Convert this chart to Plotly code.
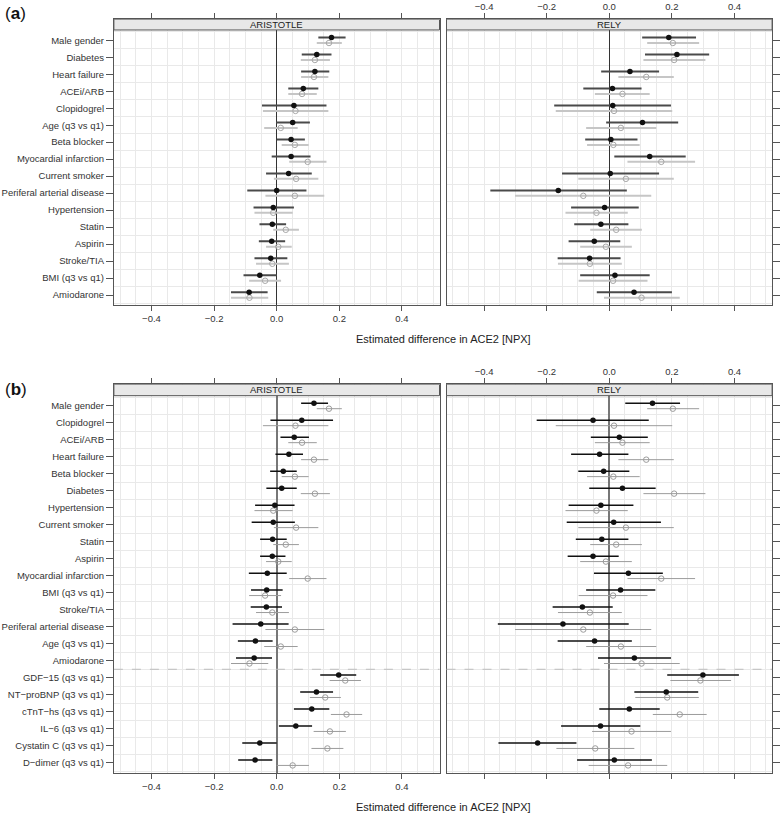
import plotly.graph_objects as go

# ---------------- data ----------------
labels_a = ["Male gender", "Diabetes", "Heart failure", "ACEi/ARB", "Clopidogrel",
            "Age (q3 vs q1)", "Beta blocker", "Myocardial infarction", "Current smoker",
            "Periferal arterial disease", "Hypertension", "Statin", "Aspirin",
            "Stroke/TIA", "BMI (q3 vs q1)", "Amiodarone"]

# panel (a) ARISTOTLE
a_ari_est = [0.175, 0.128, 0.122, 0.085, 0.055, 0.051, 0.046, 0.046, 0.038, 0.000, -0.011, -0.014, -0.016, -0.019, -0.054, -0.088]
a_ari_lo = [0.133, 0.080, 0.078, 0.037, -0.047, -0.002, 0.000, -0.016, -0.034, -0.094, -0.074, -0.055, -0.057, -0.071, -0.106, -0.146]
a_ari_hi = [0.220, 0.175, 0.168, 0.133, 0.159, 0.106, 0.090, 0.108, 0.112, 0.095, 0.055, 0.030, 0.027, 0.034, 0.000, -0.029]
a_ari_uni_est = [0.167, 0.122, 0.119, 0.081, 0.060, 0.013, 0.058, 0.099, 0.062, 0.058, -0.011, 0.029, 0.005, -0.014, -0.037, -0.087]
a_ari_uni_lo = [0.128, 0.077, 0.078, 0.037, -0.044, -0.040, 0.016, 0.040, -0.009, -0.036, -0.071, -0.011, -0.034, -0.066, -0.088, -0.146]
a_ari_uni_hi = [0.208, 0.170, 0.165, 0.128, 0.165, 0.067, 0.102, 0.159, 0.133, 0.152, 0.051, 0.071, 0.048, 0.039, 0.014, -0.027]

# panel (a) RELY
a_rely_est = [0.190, 0.216, 0.066, 0.010, 0.011, 0.106, 0.005, 0.129, 0.003, -0.163, -0.015, -0.027, -0.048, -0.063, 0.018, 0.079]
a_rely_lo = [0.105, 0.114, -0.026, -0.083, -0.176, -0.010, -0.077, 0.016, -0.151, -0.380, -0.122, -0.112, -0.130, -0.165, -0.093, -0.040]
a_rely_hi = [0.277, 0.319, 0.159, 0.103, 0.197, 0.220, 0.090, 0.244, 0.159, 0.056, 0.094, 0.061, 0.035, 0.036, 0.129, 0.200]
a_rely_uni_est = [0.203, 0.207, 0.118, 0.042, 0.015, 0.037, 0.013, 0.166, 0.053, -0.083, -0.041, 0.022, -0.011, -0.062, 0.012, 0.103]
a_rely_uni_lo = [0.121, 0.109, 0.029, -0.046, -0.171, -0.074, -0.071, 0.058, -0.099, -0.301, -0.140, -0.061, -0.093, -0.164, -0.098, -0.017]
a_rely_uni_hi = [0.287, 0.307, 0.206, 0.129, 0.201, 0.150, 0.097, 0.274, 0.206, 0.134, 0.059, 0.104, 0.072, 0.040, 0.122, 0.225]

labels_b = ["Male gender", "Clopidogrel", "ACEi/ARB", "Heart failure", "Beta blocker",
            "Diabetes", "Hypertension", "Current smoker", "Statin", "Aspirin",
            "Myocardial infarction", "BMI (q3 vs q1)", "Stroke/TIA",
            "Periferal arterial disease", "Age (q3 vs q1)", "Amiodarone",
            "GDF\u221215 (q3 vs q1)", "NT\u2212proBNP (q3 vs q1)", "cTnT\u2212hs (q3 vs q1)",
            "IL\u22126 (q3 vs q1)", "Cystatin C (q3 vs q1)", "D\u2212dimer (q3 vs q1)"]

# panel (b) ARISTOTLE
b_ari_est = [0.119, 0.080, 0.056, 0.039, 0.021, 0.016, -0.006, -0.011, -0.013, -0.014, -0.030, -0.032, -0.033, -0.051, -0.068, -0.072, 0.198, 0.127, 0.112, 0.061, -0.054, -0.069]
b_ari_lo = [0.078, -0.020, 0.012, -0.004, -0.021, -0.033, -0.069, -0.080, -0.053, -0.053, -0.089, -0.082, -0.083, -0.141, -0.124, -0.130, 0.139, 0.075, 0.055, 0.007, -0.110, -0.123]
b_ari_hi = [0.164, 0.180, 0.103, 0.084, 0.064, 0.064, 0.057, 0.058, 0.032, 0.028, 0.032, 0.019, 0.017, 0.038, -0.013, -0.015, 0.254, 0.180, 0.168, 0.113, 0.000, -0.014]
b_ari_uni_est = [0.167, 0.060, 0.081, 0.119, 0.058, 0.122, -0.011, 0.062, 0.029, 0.005, 0.099, -0.037, -0.014, 0.058, 0.013, -0.087, 0.219, 0.155, 0.223, 0.170, 0.162, 0.051]
b_ari_uni_lo = [0.128, -0.044, 0.037, 0.078, 0.016, 0.077, -0.071, -0.009, -0.011, -0.034, 0.040, -0.088, -0.066, -0.036, -0.040, -0.146, 0.169, 0.106, 0.173, 0.118, 0.111, 0.000]
b_ari_uni_hi = [0.208, 0.165, 0.128, 0.165, 0.102, 0.170, 0.051, 0.133, 0.071, 0.048, 0.159, 0.014, 0.039, 0.152, 0.067, -0.027, 0.269, 0.205, 0.273, 0.221, 0.213, 0.103]

# panel (b) RELY
b_rely_est = [0.138, -0.052, 0.032, -0.031, -0.018, 0.042, -0.027, 0.014, -0.024, -0.052, 0.061, 0.036, -0.086, -0.148, -0.047, 0.080, 0.299, 0.182, 0.064, -0.028, -0.229, 0.016]
b_rely_lo = [0.051, -0.232, -0.059, -0.122, -0.099, -0.064, -0.130, -0.136, -0.107, -0.133, -0.049, -0.074, -0.181, -0.356, -0.165, -0.036, 0.185, 0.080, -0.032, -0.154, -0.354, -0.103]
b_rely_hi = [0.226, 0.126, 0.123, 0.061, 0.064, 0.148, 0.077, 0.165, 0.061, 0.030, 0.171, 0.147, 0.011, 0.062, 0.072, 0.197, 0.414, 0.284, 0.161, 0.099, -0.105, 0.136]
b_rely_uni_est = [0.203, 0.015, 0.042, 0.118, 0.013, 0.207, -0.041, 0.053, 0.022, -0.011, 0.166, 0.012, -0.062, -0.083, 0.037, 0.103, 0.291, 0.185, 0.225, 0.071, -0.045, 0.060]
b_rely_uni_lo = [0.121, -0.171, -0.046, 0.029, -0.071, 0.109, -0.140, -0.099, -0.061, -0.093, 0.058, -0.098, -0.164, -0.301, -0.074, -0.017, 0.195, 0.083, 0.139, -0.055, -0.169, -0.066]
b_rely_uni_hi = [0.287, 0.201, 0.129, 0.206, 0.097, 0.307, 0.059, 0.206, 0.104, 0.072, 0.274, 0.122, 0.040, 0.134, 0.150, 0.225, 0.389, 0.286, 0.311, 0.197, 0.080, 0.185]

studies = ["ARISTOTLE", "RELY"]
axis_title = "Estimated difference in ACE2 [NPX]"

# ---------------- layout geometry ----------------
W, H = 780, 814
FONT = "Liberation Sans, Arial, sans-serif"
XRANGE = [-0.52, 0.52]
XDOM = [[113.9 / W, 439.5 / W], [446.5 / W, 772.1 / W]]
GRID = "#e9e9e9"
FRAME = "#555555"

panels = [
    dict(labels=labels_a, ydom=[1 - 305 / H, 1 - 19.3 / H], ytop=-1.235, strip_bot=-0.606,
         data=[(a_ari_est, a_ari_lo, a_ari_hi, a_ari_uni_est, a_ari_uni_lo, a_ari_uni_hi),
               (a_rely_est, a_rely_lo, a_rely_hi, a_rely_uni_est, a_rely_uni_lo, a_rely_uni_hi)],
         adj_line="#4a4a4a", adj_w=2, uni_line="#c6c6c6", uni_w=2, uni_mark="#a8a8a8",
         zero="#333333", zero_w=1.2, dashed=None),
    dict(labels=labels_b, ydom=[1 - 772.7 / H, 1 - 384.3 / H], ytop=-1.276, strip_bot=-0.606,
         data=[(b_ari_est, b_ari_lo, b_ari_hi, b_ari_uni_est, b_ari_uni_lo, b_ari_uni_hi),
               (b_rely_est, b_rely_lo, b_rely_hi, b_rely_uni_est, b_rely_uni_lo, b_rely_uni_hi)],
         adj_line="#111111", adj_w=1.5, uni_line="#9c9c9c", uni_w=1, uni_mark="#9c9c9c",
         zero="#777777", zero_w=1.5, dashed=15.5),
]

fig = go.Figure()
shapes = []
annotations = []
layout = {}

ax = 0
for p_i, p in enumerate(panels):
    n = len(p["labels"])
    rows = list(range(n))
    ybot = n - 1 + 0.588
    for s_i in range(2):
        ax += 1
        xa = "x" if ax == 1 else f"x{ax}"
        ya = "y" if ax == 1 else f"y{ax}"
        xkey = "xaxis" if ax == 1 else f"xaxis{ax}"
        ykey = "yaxis" if ax == 1 else f"yaxis{ax}"
        est, lo, hi, uest, ulo, uhi = p["data"][s_i]

        # univariate (grey) first
        fig.add_trace(go.Scatter(
            x=uest, y=[r + 0.16 for r in rows], mode="markers", xaxis=xa, yaxis=ya,
            marker=dict(symbol="circle-open", size=5.5, color=p["uni_mark"], line=dict(width=1)),
            error_x=dict(type="data", symmetric=False,
                         array=[h - e for e, h in zip(uest, uhi)],
                         arrayminus=[e - l for e, l in zip(uest, ulo)],
                         width=0, thickness=p["uni_w"], color=p["uni_line"]),
            showlegend=False, hoverinfo="skip"))
        # adjusted (black)
        fig.add_trace(go.Scatter(
            x=est, y=[r - 0.16 for r in rows], mode="markers", xaxis=xa, yaxis=ya,
            marker=dict(symbol="circle", size=5.5, color="#111111"),
            error_x=dict(type="data", symmetric=False,
                         array=[h - e for e, h in zip(est, hi)],
                         arrayminus=[e - l for e, l in zip(est, lo)],
                         width=0, thickness=p["adj_w"], color=p["adj_line"]),
            showlegend=False, hoverinfo="skip"))

        layout[xkey] = dict(
            domain=XDOM[s_i], anchor=ya, range=XRANGE,
            tickmode="linear", tick0=0, dtick=0.2, tickformat=".1f",
            side="bottom" if s_i == 0 else "top",
            ticks="outside", ticklen=5, tickcolor=FRAME, mirror="ticks",
            showline=True, linecolor=FRAME, linewidth=1,
            showgrid=True, gridcolor=GRID, gridwidth=1,
            minor=dict(tick0=0, dtick=0.05, showgrid=True, gridcolor=GRID, ticks=""),
            zeroline=True, zerolinecolor=p["zero"], zerolinewidth=p["zero_w"],
            tickfont=dict(family=FONT, size=9.5, color="#333333"),
            fixedrange=True)
        layout[ykey] = dict(
            domain=p["ydom"], anchor=xa, range=[ybot, p["ytop"]],
            tickmode="array", tickvals=rows, ticktext=p["labels"],
            side="left" if s_i == 0 else "right",
            showticklabels=(s_i == 0),
            ticks="outside", ticklen=7, tickcolor=FRAME, mirror=True,
            showline=True, linecolor=FRAME, linewidth=1,
            showgrid=False, zeroline=False,
            minor=dict(tickmode="array", tickvals=[r + 0.5 for r in range(-1, n)],
                       showgrid=True, gridcolor=GRID, ticks=""),
            tickfont=dict(family=FONT, size=9.5, color="#333333"),
            fixedrange=True)

        # strip
        shapes.append(dict(type="rect", xref=f"{xa} domain", yref=ya,
                           x0=0, x1=1, y0=p["ytop"], y1=p["strip_bot"],
                           fillcolor="#e8e8e8", line=dict(color=FRAME, width=1), layer="above"))
        annotations.append(dict(xref=f"{xa} domain", yref=ya, x=0.5,
                                y=(p["ytop"] + p["strip_bot"]) / 2, text=studies[s_i],
                                showarrow=False, font=dict(family=FONT, size=9.5, color="#222222"),
                                yanchor="middle"))
        if p["dashed"] is not None:
            shapes.append(dict(type="line", xref=f"{xa} domain", yref=ya,
                               x0=0, x1=1, y0=p["dashed"], y1=p["dashed"],
                               line=dict(color="#bdbdbd", width=1, dash="dash"), layer="above"))

# panel letters and axis titles
annotations.append(dict(xref="paper", yref="paper", x=3 / W, y=1 - 14 / H, text="(<b>a</b>)",
                        showarrow=False, xanchor="left", yanchor="middle",
                        font=dict(family=FONT, size=17, color="#111111")))
annotations.append(dict(xref="paper", yref="paper", x=3 / W, y=1 - 389 / H, text="(<b>b</b>)",
                        showarrow=False, xanchor="left", yanchor="middle",
                        font=dict(family=FONT, size=17, color="#111111")))
for ty in (339, 806.5):
    annotations.append(dict(xref="paper", yref="paper", x=443 / W, y=1 - ty / H, text=axis_title,
                            showarrow=False, xanchor="center", yanchor="middle",
                            font=dict(family=FONT, size=11, color="#222222")))

fig.update_layout(
    width=W, height=H, margin=dict(l=0, r=0, t=0, b=0),
    paper_bgcolor="white", plot_bgcolor="white",
    shapes=shapes, annotations=annotations, showlegend=False,
    **layout)

fig.write_html("out.html", config={"displayModeBar": False},
               post_script="document.body.style.margin='0';document.body.style.padding='0';"
                           "document.body.style.overflow='hidden';")
